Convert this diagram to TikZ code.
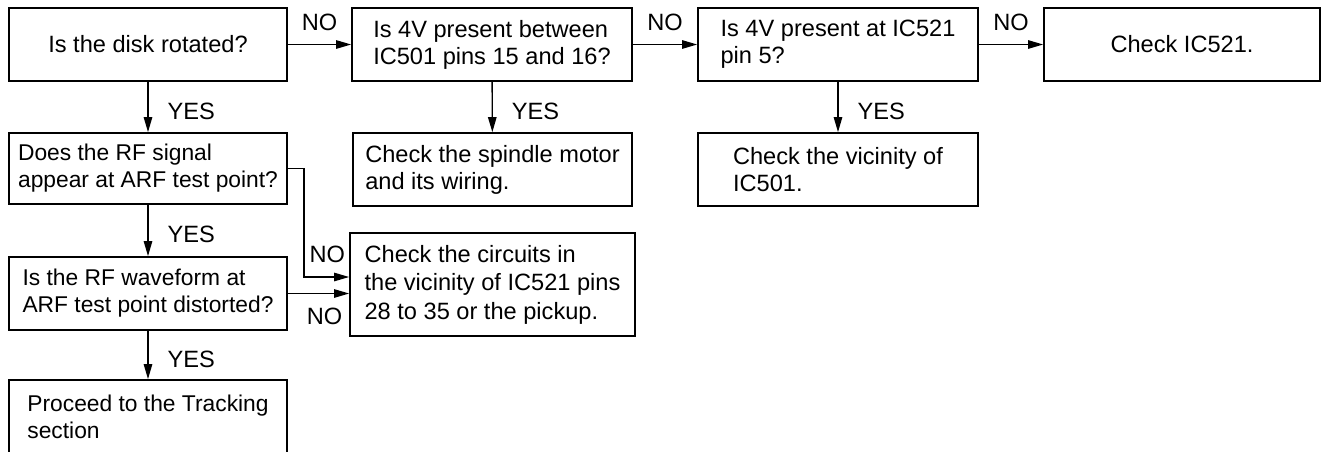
\documentclass[tikz,border=0pt]{standalone}
\usepackage{fontspec}
\setmainfont{Liberation Sans}
\usepackage{tikz}
\usetikzlibrary{arrows.meta,positioning}
\tikzset{
  boite/.style={draw,line width=0.85pt,inner sep=0pt,minimum width=139pt,
                minimum height=36.5pt,align=left,
                font=\fontsize{11.8}{13.5}\selectfont},
  gauche/.style={font=\fontsize{11.4}{13.5}\selectfont},
  fleche/.style={line width=0.7pt,-{Triangle[length=7.5pt,width=4.2pt]}},
  etiq/.style={inner sep=0pt,font=\fontsize{11.8}{13.5}\selectfont}}

\begin{document}
\begin{tikzpicture}[x=0.5pt,y=-0.5pt]
      \useasboundingbox (0,0) rectangle (1321,451);
      \node[boite,align=center] (disque) at (148,44.5) {Is the disk rotated?};
      \node[boite,minimum width=140pt] (tension) at (492,44.5) {Is 4V present between\\IC501 pins 15 and 16?};
      \node[boite,minimum width=140pt] (broche) at (838,44.5) {Is 4V present at IC521\\pin 5?};
      \node[boite,align=center,minimum width=138pt] (ic) at (1182,44.5) {Check IC521.};
      \node[boite,gauche,minimum height=35.5pt] (signal) at (148,168.5) {Does the RF signal\\appear at ARF test point?};
      \node[boite,minimum width=139.5pt] (moteur) at (492.5,169.5) {Check the spindle motor\\and its wiring.};
      \node[boite,minimum width=140pt] (voisin) at (838,169.5) {Check the vicinity of\\IC501.};
      \node[boite,gauche] (forme) at (148,293.5) {Is the RF waveform at\\ARF test point distorted?};
      \node[boite,minimum width=142.5pt,minimum height=51.5pt,
            font=\fontsize{11.8}{14.25}\selectfont] (circuit) at (492.5,284.5) {Check the circuits in\\the vicinity of IC521 pins\\28 to 35 or the pickup.};
      \node[boite,gauche] (suite) at (148,416.5) {Proceed to the Tracking\\section};
      \draw[fleche] (disque) -- node[etiq,above=6.5pt]{NO} (tension);
      \draw[fleche] (tension) -- node[etiq,above=6.5pt]{NO} (broche);
      \draw[fleche] (broche) -- node[etiq,above=6.5pt]{NO} (ic);
      \draw[fleche] (disque) -- node[etiq,right=9.5pt,yshift=-2pt]{YES} (signal);
      \draw[fleche] (tension) -- node[etiq,right=9.5pt,yshift=-2pt]{YES} (moteur);
      \draw[fleche] (broche) -- node[etiq,right=9.5pt,yshift=-2pt]{YES} (voisin);
      \draw[fleche] (signal) -- node[etiq,right=9.5pt,yshift=-2pt]{YES} (forme);
      \draw[fleche] (forme) -- node[etiq,right=9.5pt,yshift=-2pt]{YES} (suite);
      \draw[fleche] (signal.east) -- ++(16,0) |- node[etiq,pos=0.76,above=7pt]{NO} ([yshift=3.75pt]circuit.west);
      \draw[fleche] (forme.east) -- node[etiq,pos=0.6,below=7pt]{NO} (forme.east -| circuit.west);
    \end{tikzpicture}
\end{document}
